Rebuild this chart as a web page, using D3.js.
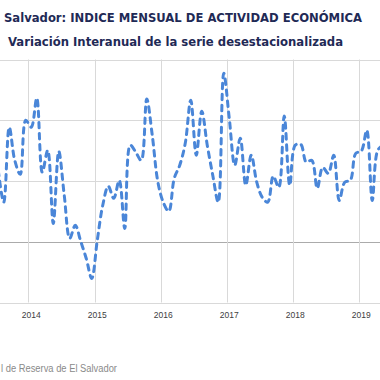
<!DOCTYPE html>
<html>
<head>
<meta charset="utf-8">
<script src="https://cdn.jsdelivr.net/npm/d3@7"></script>
<style>
  html, body { margin: 0; padding: 0; background: #fff; }
  svg { display: block; }
</style>
</head>
<body>
<svg id="chart" width="380" height="380"></svg>
<script>
// ---- data ----
const titleText = "Salvador: INDICE MENSUAL DE ACTIVIDAD ECONÓMICA";
const subtitleText = "Variación Interanual de la serie desestacionalizada";
const sourceText = "l de Reserva de El Salvador";
const yearLabels = ["2014", "2015", "2016", "2017", "2018", "2019"];
const firstMonthIndex = -6; // July 2013, relative to January 2014
// year-on-year variation (%), monthly from Jul 2013 to May 2019
const values = [
  2.35, 1.30, 3.77, 2.68, 2.22, 4.00,            // 2013 Jul–Dec
  3.77, 4.73, 2.29, 3.01, 0.60, 2.98,            // 2014 Jan–Jun
  1.53, 0.11, 0.54, 0.01, -0.55, -1.21,          // 2014 Jul–Dec
  0.04, 1.20, 1.83, 1.43, 2.02, 0.44,            // 2015 Jan–Jun
  3.18, 2.95, 2.68, 4.70, 3.51, 1.99,            // 2015 Jul–Dec
  1.30, 1.00, 2.09, 2.52, 3.24, 4.66,            // 2016 Jan–Jun
  2.85, 4.30, 3.18, 2.19, 1.30, 5.55,            // 2016 Jul–Dec
  4.07, 2.52, 3.41, 1.86, 2.85, 1.96,            // 2017 Jan–Jun
  1.46, 1.30, 2.16, 1.79, 4.14, 1.86,            // 2017 Jul–Dec
  3.18, 3.21, 2.62, 2.68, 1.76, 2.45,            // 2018 Jan–Jun
  2.25, 2.85, 1.36, 1.96, 2.02, 2.91,            // 2018 Jul–Dec
  2.98, 3.67, 1.36, 3.01, 3.18                   // 2019 Jan–May
];
const yTicks = [-2, 0, 2, 4, 6];

// ---- layout ----
const svg = d3.select("#chart");
const x = d3.scaleLinear().domain([0, 60]).range([31.25, 361.25]);
const y = d3.scaleLinear().domain([-2, 6]).range([302.5, 59.5]);

const data = values.map((v, i) => ({ m: firstMonthIndex + i, v }));

// horizontal gridlines
svg.append("g").selectAll("line").data(yTicks).join("line")
  .attr("x1", 0).attr("x2", 380)
  .attr("y1", d => Math.round(y(d)) + 0.5).attr("y2", d => Math.round(y(d)) + 0.5)
  .attr("stroke", d => d === 0 ? "#ababab" : "#d9d9d9")
  .attr("stroke-width", 1);

// vertical year gridlines (between December and January)
svg.append("g").selectAll("line").data(yearLabels).join("line")
  .attr("x1", (d, i) => Math.round(x(i * 12 - 0.5)) + 0.5)
  .attr("x2", (d, i) => Math.round(x(i * 12 - 0.5)) + 0.5)
  .attr("y1", y(6)).attr("y2", y(-2))
  .attr("stroke", "#d9d9d9").attr("stroke-width", 1);

// year labels
svg.append("g").selectAll("text").data(yearLabels).join("text")
  .attr("x", (d, i) => x(i * 12))
  .attr("y", 318)
  .attr("text-anchor", "middle")
  .attr("font-family", "Liberation Sans, Arial, sans-serif")
  .attr("font-size", 8.5)
  .attr("fill", "#404040")
  .text(d => d);

// line
const line = d3.line()
  .x(d => x(d.m))
  .y(d => y(d.v))
  .curve(d3.curveCatmullRom.alpha(0.5));

svg.append("path")
  .datum(data)
  .attr("d", line)
  .attr("fill", "none")
  .attr("stroke", "#4a86d8")
  .attr("stroke-width", 3)
  .attr("stroke-dasharray", "5.5,5.5")
  .attr("stroke-linecap", "round");

// titles
svg.append("text")
  .attr("x", 4).attr("y", 22)
  .attr("font-family", "DejaVu Sans, sans-serif")
  .attr("font-weight", "bold")
  .attr("font-size", 12)
  .attr("fill", "#1f2a56")
  .attr("textLength", 358)
  .attr("lengthAdjust", "spacingAndGlyphs")
  .text(titleText);

svg.append("text")
  .attr("x", 8).attr("y", 46)
  .attr("font-family", "DejaVu Sans, sans-serif")
  .attr("font-weight", "bold")
  .attr("font-size", 12)
  .attr("fill", "#1f2a56")
  .attr("textLength", 335)
  .attr("lengthAdjust", "spacingAndGlyphs")
  .text(subtitleText);

// source
svg.append("text")
  .attr("x", 1).attr("y", 372)
  .attr("font-family", "Liberation Sans, Arial, sans-serif")
  .attr("font-size", 10)
  .attr("fill", "#8a8a8a")
  .attr("textLength", 116)
  .attr("lengthAdjust", "spacingAndGlyphs")
  .text(sourceText);
</script>
</body>
</html>
